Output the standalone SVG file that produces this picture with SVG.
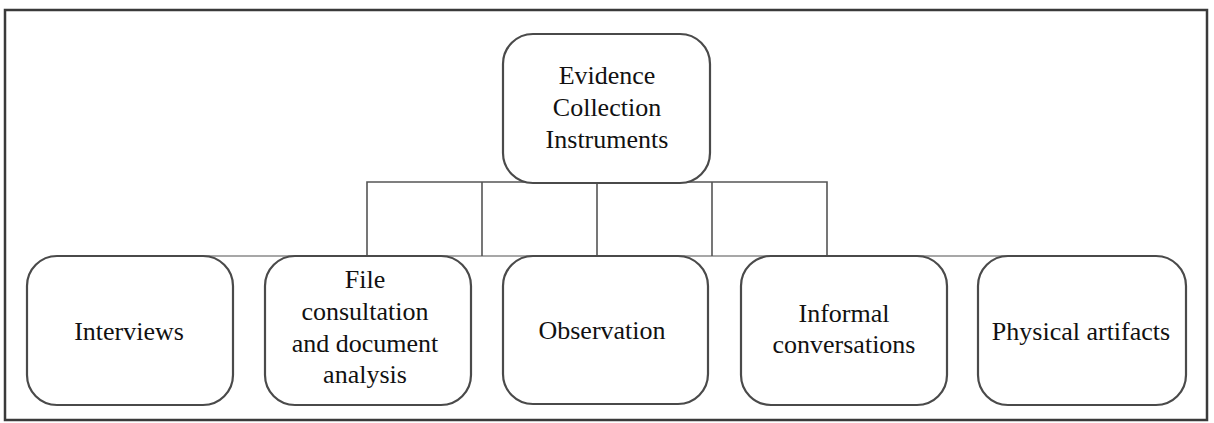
<svg xmlns="http://www.w3.org/2000/svg" width="1214" height="423" viewBox="0 0 1214 423">
<style>
.frame{fill:none;stroke:#3a3a3a;stroke-width:2.5}
.box{fill:#fff;stroke:#4a4a4a;stroke-width:2.2}
.conn{fill:none;stroke:#555;stroke-width:1.6}
.base{fill:none;stroke:#8a8a8a;stroke-width:1.6}
text{font-family:"Liberation Serif","Times New Roman",serif;font-size:26px;fill:#111;text-anchor:middle}
</style>
<rect width="1214" height="423" fill="#fff"/>
<rect class="frame" x="5" y="10" width="1202" height="410"/>
<g id="connectors">
<line class="base" x1="203" y1="256" x2="1008" y2="256"/>
<path class="conn" d="M367,256 V182 H827 V256 M482,182 V256 M597,182 V256 M712,182 V256"/>
</g>
<g id="n-root">
<rect class="box" x="503" y="34" width="207" height="149" rx="30"/>
<text x="607" y="84">Evidence</text>
<text x="607" y="116">Collection</text>
<text x="607" y="148">Instruments</text>
</g>
<g id="n-interviews">
<rect class="box" x="27" y="256" width="206" height="149" rx="30"/>
<text x="129" y="340">Interviews</text>
</g>
<g id="n-file">
<rect class="box" x="265" y="256" width="206" height="149" rx="30"/>
<text x="365" y="288">File</text>
<text x="365" y="320">consultation</text>
<text x="365" y="352">and document</text>
<text x="365" y="383">analysis</text>
</g>
<g id="n-observation">
<rect class="box" x="503" y="256" width="205" height="148" rx="30"/>
<text x="602" y="339">Observation</text>
</g>
<g id="n-informal">
<rect class="box" x="741" y="256" width="206" height="149" rx="30"/>
<text x="844" y="322">Informal</text>
<text x="844" y="353">conversations</text>
</g>
<g id="n-physical">
<rect class="box" x="978" y="256" width="208" height="149" rx="30"/>
<text x="1081" y="340">Physical artifacts</text>
</g>
</svg>
